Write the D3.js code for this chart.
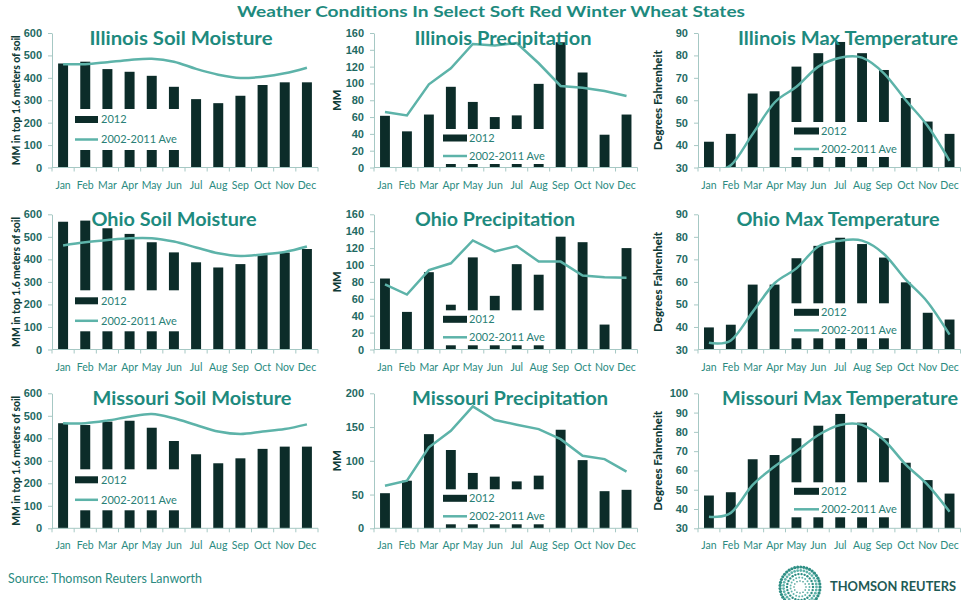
<!DOCTYPE html>
<html>
<head>
<meta charset="utf-8">
<style>
    html, body { margin: 0; padding: 0; background: #ffffff; }
    svg { display: block; font-family: Lato, "Open Sans", sans-serif; }
    .yAxis text { font-weight: bold; font-size: 11px; fill: #1f6a63; }
    .yAxis path, .yAxis line, .xTick, .xAxisLine { stroke: #a6c8c4; }
    .month { font-size: 10.5px; fill: #2a8a80; }
    .ptitle { font-weight: bold; font-size: 19px; fill: #1e8a7e; }
    .ytitle { font-weight: 900; font-size: 11px; fill: #103b37; }
    .legText { font-size: 11px; fill: #2a7f76; }
    .bar { fill: #0c2c29; }
    .avg { fill: none; stroke: #5db3a9; stroke-width: 2.5; }
</style>
</head>
<body>
<svg id="chart" width="962" height="600"></svg>

<script src="https://cdn.jsdelivr.net/npm/d3@7"></script>
<script>
    var months = ["Jan", "Feb", "Mar", "Apr", "May", "Jun", "Jul", "Aug", "Sep", "Oct", "Nov", "Dec"];

    // Illinois
    var ilSoil2012 = [464, 472, 439, 427, 409, 360, 305, 287, 320, 368, 380, 380];
    var ilSoilAvg = [461, 461, 470, 480, 485, 472, 440, 414, 399, 405, 420, 445];
    var ilPrecip2012 = [61.5, 43, 63, 96, 78, 60, 62, 99.5, 149, 113, 39, 63];
    var ilPrecipAvg = [66, 62, 99, 118, 147, 145, 148, 124, 97, 95, 91, 85];
    var ilTemp2012 = [41.5, 45, 63, 64, 75, 81, 86, 81, 73.5, 61, 50.5, 45];
    var ilTempAvg = [28.5, 31, 45, 59, 66, 75, 79, 79, 72, 60, 48.5, 33];

    // Ohio
    var ohSoil2012 = [567, 572, 538, 513, 476, 431, 387, 364, 379, 419, 430, 446];
    var ohSoilAvg = [462, 476, 486, 494, 494, 479, 453, 427, 415, 422, 433, 457];
    var ohPrecip2012 = [84, 44.5, 91.5, 53, 109, 63.5, 101, 88.5, 133.5, 127, 29.5, 120];
    var ohPrecipAvg = [77, 65, 94, 102, 129, 116, 122.5, 104, 104, 87.5, 85.5, 85];
    var ohTemp2012 = [39.8, 41, 58.8, 58.8, 70.5, 76, 79.6, 76.8, 70.8, 59.8, 46.3, 43.3];
    var ohTempAvg = [33, 34, 46.7, 59.4, 66, 75.7, 78.3, 78.3, 72.4, 61, 51, 36.6];

    // Missouri
    var moSoil2012 = [467, 459, 474, 478, 447, 388, 329, 289, 311, 353, 363, 363];
    var moSoilAvg = [467, 467, 479, 496, 508, 489, 459, 430, 419, 430, 441, 462];
    var moPrecip2012 = [52, 70.5, 139.5, 116, 82, 76.5, 69.5, 78, 146, 101, 55, 57];
    var moPrecipAvg = [63, 70.5, 120, 144.5, 180.5, 160.5, 153.5, 147, 132, 107.5, 102.5, 84];
    var moTemp2012 = [47, 48.7, 65.8, 68, 76.7, 83.2, 89.3, 84.8, 76.7, 64, 55, 48];
    var moTempAvg = [36, 38, 52.5, 62, 70, 78.4, 83.6, 83.6, 75.8, 63, 52.5, 38.6];

    var legendLabels = ["2012", "2002-2011 Ave"];

    // layout per column (x range, axis title, legend box relative to plot)
    var cols = [
        { x0: 52, x1: 318, yTitle: "MM in top 1.6 meters of soil", yTitleX: 16, yTitleLen: 130, smooth: true,
          leg: { x: 20, y: 76, w: 116, h: 41, sx: 23, sw: 23, sy: 86.5, ly: 106.5, tx: 49 } },
        { x0: 374, x1: 637.5, yTitle: "MM", yTitleX: 337, yTitleLen: 0, smooth: false,
          leg: { x: 67, y: 96, w: 107, h: 35, sx: 69, sw: 24, sy: 105, ly: 123, tx: 95 } },
        { x0: 698, x1: 960.5, yTitle: "Degrees Fahrenheit", yTitleX: 658, yTitleLen: 100, smooth: true,
          leg: { x: 90, y: 89, w: 106, h: 35, sx: 96, sw: 25, sy: 98, ly: 116, tx: 123 } }
    ];
    var rows = [
        { top: 33, bottom: 167.5, titleY: 45 },
        { top: 214.3, bottom: 349.5, titleY: 226 },
        { top: 393.3, bottom: 528.3, titleY: 405 }
    ];

    var panels = [
        { row: 0, col: 0, title: "Illinois Soil Moisture", tx: 181, tw: 183, bars: ilSoil2012, avg: ilSoilAvg, y: [0, 600, 100] },
        { row: 0, col: 1, title: "Illinois Precipitation", tx: 503, tw: 177, bars: ilPrecip2012, avg: ilPrecipAvg, y: [0, 160, 20] },
        { row: 0, col: 2, title: "Illinois Max Temperature", tx: 848, tw: 220, bars: ilTemp2012, avg: ilTempAvg, y: [30, 90, 10] },
        { row: 1, col: 0, title: "Ohio Soil Moisture", tx: 174, tw: 165, bars: ohSoil2012, avg: ohSoilAvg, y: [0, 600, 100] },
        { row: 1, col: 1, title: "Ohio Precipitation", tx: 495, tw: 160, bars: ohPrecip2012, avg: ohPrecipAvg, y: [0, 160, 20] },
        { row: 1, col: 2, title: "Ohio Max Temperature", tx: 838, tw: 203, bars: ohTemp2012, avg: ohTempAvg, y: [30, 90, 10] },
        { row: 2, col: 0, title: "Missouri Soil Moisture", tx: 192, tw: 199, bars: moSoil2012, avg: moSoilAvg, y: [0, 600, 100] },
        { row: 2, col: 1, title: "Missouri Precipitation", tx: 510, tw: 196, bars: moPrecip2012, avg: moPrecipAvg, y: [0, 200, 50] },
        { row: 2, col: 2, title: "Missouri Max Temperature", tx: 840, tw: 236, bars: moTemp2012, avg: moTempAvg, y: [30, 100, 10] }
    ];

    var svg = d3.select("#chart");

    // main title
    svg.append("text")
        .attr("x", 491)
        .attr("y", 17)
        .attr("text-anchor", "middle")
        .attr("textLength", 508)
        .attr("lengthAdjust", "spacingAndGlyphs")
        .style("font-weight", "bold")
        .style("font-size", "16px")
        .style("fill", "#1e8a7e")
        .text("Weather Conditions In Select Soft Red Winter Wheat States");

    panels.forEach(function (p, i) {
        var c = cols[p.col], r = rows[p.row];
        var g = svg.append("g");

        var xscale = d3.scaleBand()
            .domain(months)
            .range([c.x0, c.x1])
            .paddingInner(0.55)
            .paddingOuter(0.275);

        var yscale = d3.scaleLinear()
            .domain([p.y[0], p.y[1]])
            .range([r.bottom, r.top]);

        // clip for line
        svg.append("clipPath").attr("id", "clip" + i)
            .append("rect")
            .attr("x", c.x0).attr("y", r.top)
            .attr("width", c.x1 - c.x0).attr("height", r.bottom - r.top);

        // y axis
        var y_axis = d3.axisLeft(yscale)
            .tickValues(d3.range(p.y[0], p.y[1] + 0.01, p.y[2]))
            .tickSize(4)
            .tickSizeOuter(0)
            .tickPadding(6);
        g.append("g")
            .attr("class", "yAxis")
            .attr("transform", "translate(" + c.x0 + ",0)")
            .call(y_axis);

        // y axis title
        var yt = g.append("text")
            .attr("class", "ytitle")
            .attr("text-anchor", "middle")
            .attr("transform", "translate(" + c.yTitleX + "," + (r.top + r.bottom) / 2 + ") rotate(-90)")
            .attr("dy", "0.35em")
            .text(c.yTitle);
        if (c.yTitleLen) {
            yt.attr("textLength", c.yTitleLen).attr("lengthAdjust", "spacingAndGlyphs");
        }

        // bars
        g.selectAll(".bar")
            .data(p.bars)
            .enter().append("rect")
            .attr("class", "bar")
            .attr("x", function (d, j) { return xscale(months[j]); })
            .attr("y", function (d) { return yscale(d); })
            .attr("width", xscale.bandwidth())
            .attr("height", function (d) { return yscale(p.y[0]) - yscale(d); });

        // x axis line and ticks between categories
        g.append("line")
            .attr("class", "xAxisLine")
            .attr("x1", c.x0).attr("x2", c.x1)
            .attr("y1", r.bottom).attr("y2", r.bottom);
        var bounds = months.map(function (m) { return xscale(m) + xscale.bandwidth() / 2 - xscale.step() / 2; });
        bounds.push(c.x1);
        g.selectAll(".xTick")
            .data(bounds)
            .enter().append("line")
            .attr("class", "xTick")
            .attr("x1", function (d) { return d; })
            .attr("x2", function (d) { return d; })
            .attr("y1", r.bottom)
            .attr("y2", r.bottom + 4);

        g.selectAll(".month")
            .data(months)
            .enter().append("text")
            .attr("class", "month")
            .attr("text-anchor", "middle")
            .attr("x", function (d) { return xscale(d) + xscale.bandwidth() / 2; })
            .attr("y", r.bottom + 21)
            .text(function (d) { return d; });

        // average line
        var line = d3.line()
            .x(function (d, j) { return xscale(months[j]) + xscale.bandwidth() / 2; })
            .y(function (d) { return yscale(d); })
            .curve(c.smooth ? d3.curveCardinal.tension(0) : d3.curveLinear);
        g.append("path")
            .datum(p.avg)
            .attr("class", "avg")
            .attr("clip-path", "url(#clip" + i + ")")
            .attr("d", line);

        // legend (white box over the bars)
        var L = c.leg;
        var lg = g.append("g").attr("transform", "translate(" + c.x0 + "," + r.top + ")");
        lg.append("rect")
            .attr("x", L.x).attr("y", L.y)
            .attr("width", L.w).attr("height", L.h)
            .style("fill", "#ffffff");
        lg.append("rect")
            .attr("class", "bar")
            .attr("x", L.sx).attr("y", L.sy - 3.5)
            .attr("width", L.sw).attr("height", 7);
        lg.append("line")
            .attr("x1", L.sx).attr("x2", L.sx + L.sw)
            .attr("y1", L.ly).attr("y2", L.ly)
            .style("stroke", "#5db3a9")
            .style("stroke-width", 2.5);
        lg.selectAll(".legText")
            .data(legendLabels)
            .enter().append("text")
            .attr("class", "legText")
            .attr("x", L.tx)
            .attr("y", function (d, k) { return (k == 0 ? L.sy : L.ly); })
            .attr("dy", "0.35em")
            .text(function (d) { return d; });

        // panel title
        g.append("text")
            .attr("class", "ptitle")
            .attr("x", p.tx)
            .attr("y", r.titleY)
            .attr("text-anchor", "middle")
            .attr("textLength", p.tw)
            .attr("lengthAdjust", "spacingAndGlyphs")
            .text(p.title);
    });

    // source note
    svg.append("text")
        .attr("x", 8)
        .attr("y", 583)
        .attr("textLength", 194)
        .attr("lengthAdjust", "spacingAndGlyphs")
        .style("font-size", "13px")
        .style("fill", "#2a8a80")
        .text("Source: Thomson Reuters Lanworth");

    // logo: dotted rings + wordmark
    var logo = svg.append("g").attr("transform", "translate(800,587)");
    [6, 9.5, 13, 16.5, 20].forEach(function (rad, k) {
        var n = Math.round(2 * Math.PI * rad / 3.1);
        logo.selectAll(".ring" + k)
            .data(d3.range(n))
            .enter().append("circle")
            .attr("cx", function (d) { return rad * Math.cos(2 * Math.PI * d / n); })
            .attr("cy", function (d) { return rad * Math.sin(2 * Math.PI * d / n); })
            .attr("r", 0.8 + k * 0.2)
            .style("fill", k % 2 ? "#5fb3aa" : "#2f8f85");
    });
    svg.append("text")
        .attr("x", 830)
        .attr("y", 591)
        .attr("textLength", 126)
        .attr("lengthAdjust", "spacingAndGlyphs")
        .style("font-weight", "bold")
        .style("font-size", "13px")
        .style("fill", "#1e5a55")
        .text("THOMSON REUTERS");
</script>
</body>
</html>
